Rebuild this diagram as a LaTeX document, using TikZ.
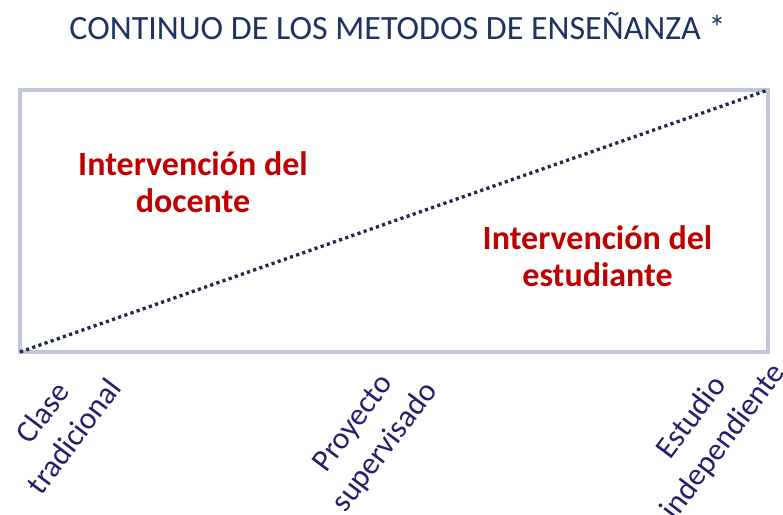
\documentclass[tikz,border=0pt]{standalone}
\usepackage{fontspec}
\setmainfont{Carlito}
\definecolor{titleblue}{RGB}{31,50,100}
\definecolor{actorred}{RGB}{192,0,0}
\definecolor{methodblue}{RGB}{40,28,108}
\definecolor{framegray}{RGB}{192,198,218}
\definecolor{trendblue}{RGB}{30,42,72}
\begin{document}
\begin{tikzpicture}
[line width=0.75pt,
frame/.style={draw=framegray, line width=2.2pt},
trend/.style={draw=trendblue, line width=1.9pt, dash pattern=on 1.8pt off 1.9pt},
heading/.style={text=titleblue, font=\fontsize{19.35}{23}\selectfont, anchor=base, inner sep=0pt},
actor/.style={text=actorred, font=\bfseries\fontsize{19.35}{21}\selectfont, align=center, inner sep=0pt},
method/.style={text=methodblue, font=\fontsize{17.8}{22.6}\selectfont, align=center, rotate=53, inner sep=0pt}]

\useasboundingbox (0,0) rectangle (15.66,10.30);

\node[heading] (title) at (7.95,9.50) {CONTINUO DE LOS METODOS DE ENSEÑANZA *};

\coordinate (ll) at (0.40,3.26);
\coordinate (ur) at (15.36,8.50);
\draw[frame] (ll) rectangle (ur);
\draw[trend] (ll) -- (ur);

\node[actor] (docente) at (3.86,6.66) {Intervención del\\docente};
\node[actor] (estudiante) at (11.95,5.18) {Intervención del\\estudiante};

\node[method] (clase) at (1.16,1.82) {Clase\\tradicional};
\node[method] (proyecto) at (7.40,1.58) {Proyecto\\supervisado};
\node[method] (estudio) at (14.16,1.70) {Estudio\\independiente};
\end{tikzpicture}
\end{document}
